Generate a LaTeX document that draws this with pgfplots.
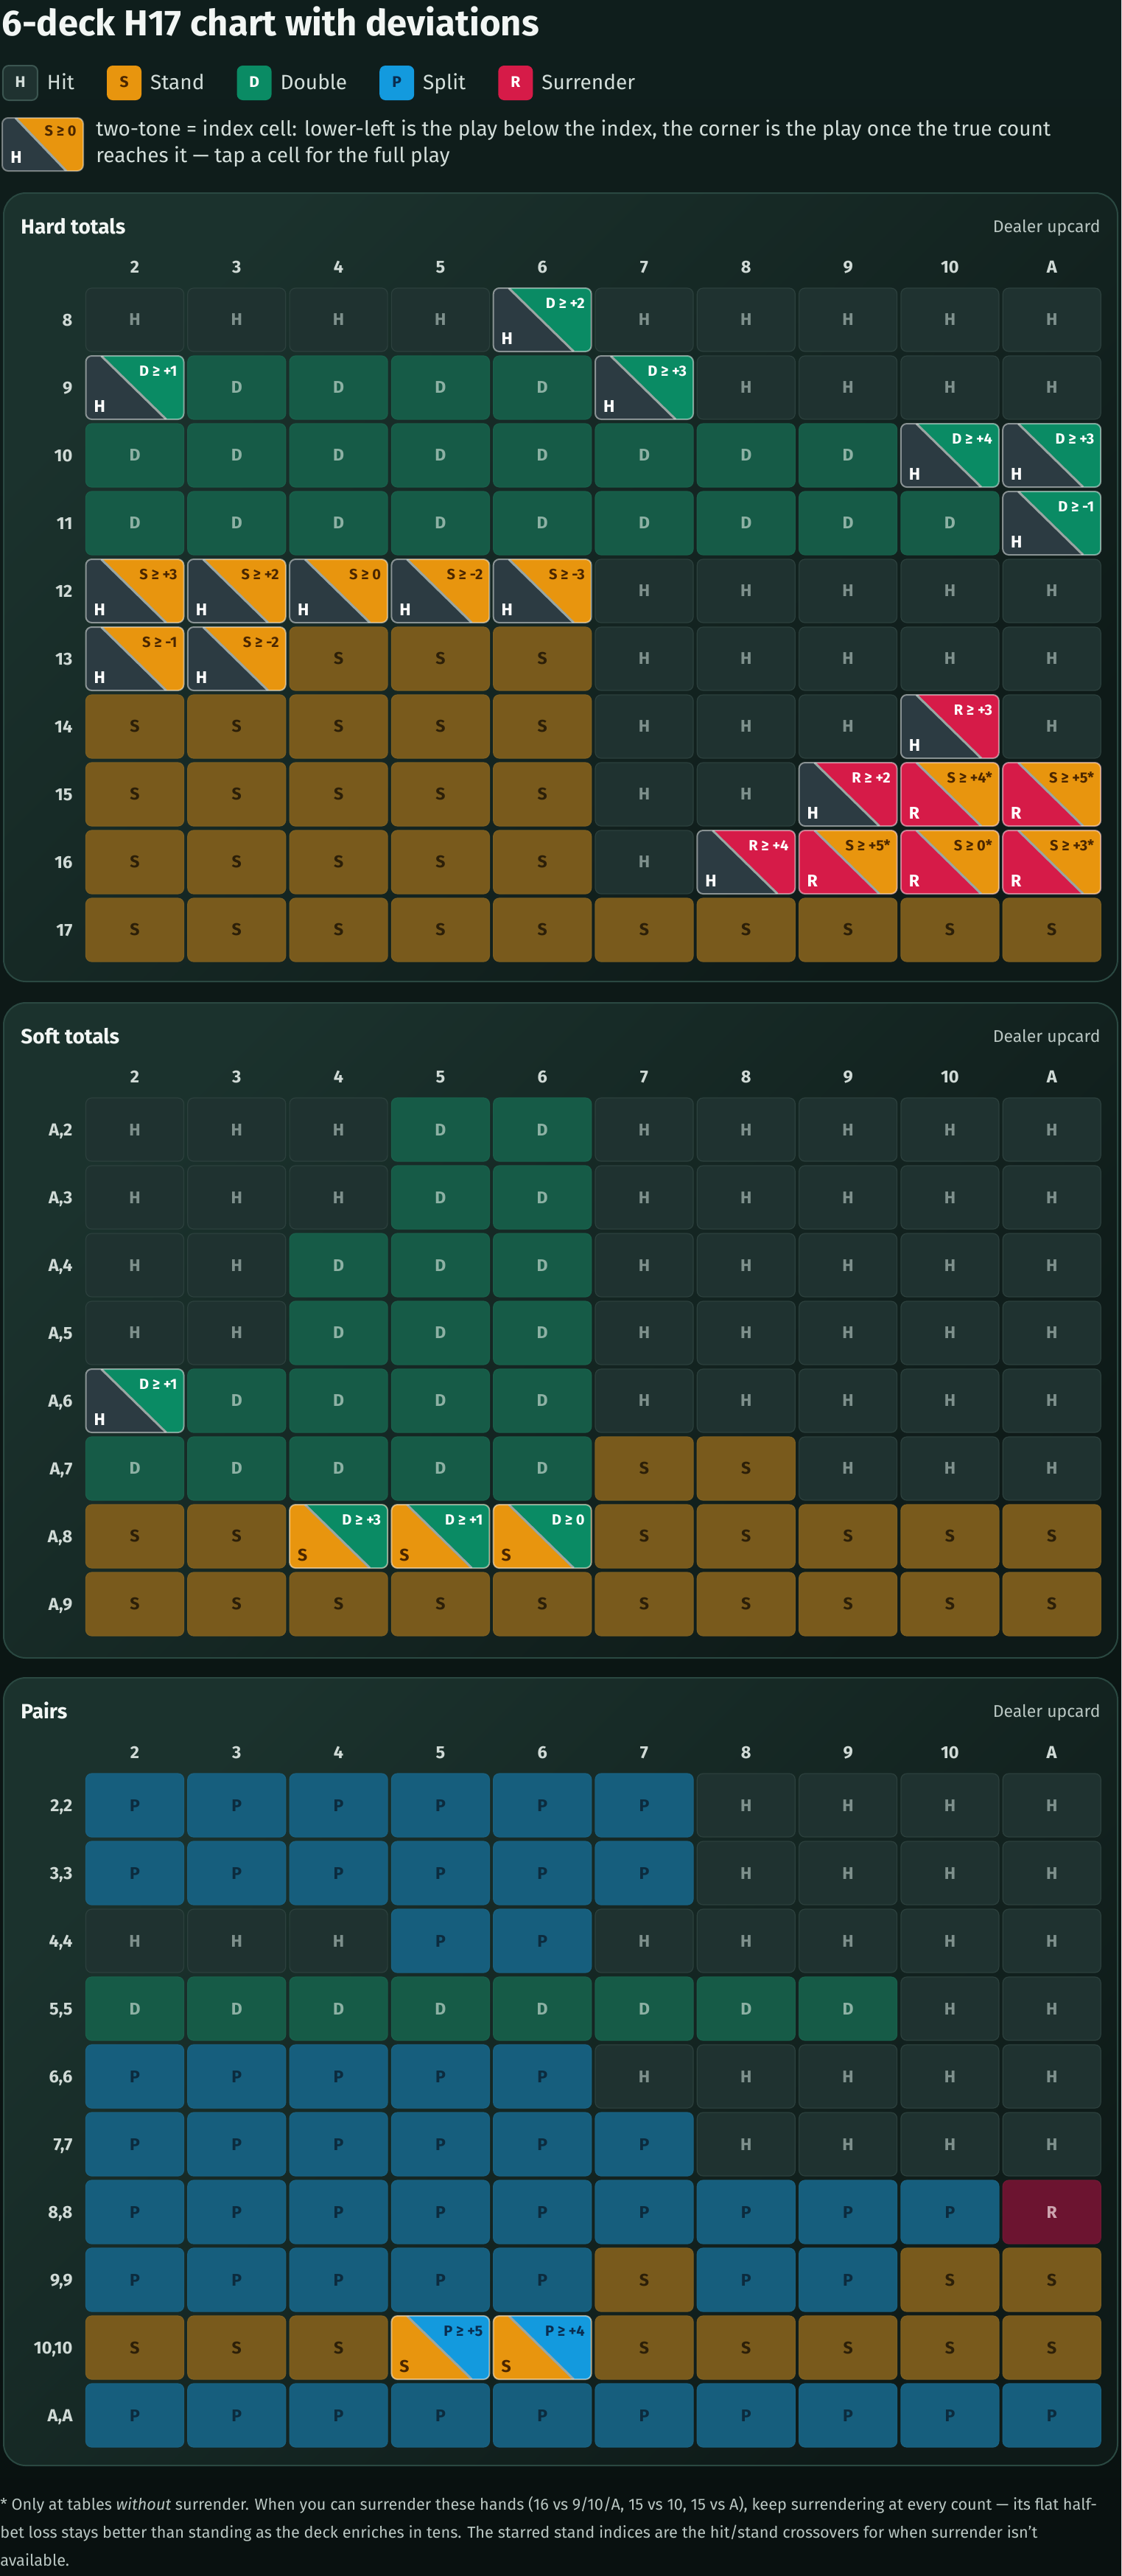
\documentclass[border=0pt]{standalone}
\usepackage{pgfplots}
\pgfplotsset{compat=1.18}
\usepackage{pgfplotstable}
\usepackage{fontspec}
\setmainfont{Fira Sans}

% page, panels, text
\definecolor{pagetop}{HTML}{0F1E1C}
\definecolor{pagebot}{HTML}{091110}
\definecolor{panelhi}{HTML}{1B322D}
\definecolor{panello}{HTML}{0E1A18}
\definecolor{panelrim}{HTML}{2A4841}
\definecolor{titletext}{HTML}{F2F6F4}
\definecolor{bodytext}{HTML}{D3DEDA}
\definecolor{dimtext}{HTML}{B9C6C2}
\definecolor{hdrtext}{HTML}{D0DAD6}
\definecolor{divider}{HTML}{9AA6A3}
\definecolor{chiprim}{HTML}{3B5550}
% plain cells: fill f, edge e, letter t
\definecolor{fH}{HTML}{1F3230}\definecolor{eH}{HTML}{2C403D}\definecolor{tH}{HTML}{7E908C}
\definecolor{fS}{HTML}{795A1C}\definecolor{eS}{HTML}{7E5F20}\definecolor{tS}{HTML}{2C1F08}
\definecolor{fD}{HTML}{165B47}\definecolor{eD}{HTML}{19604B}\definecolor{tD}{HTML}{8DB1A4}
\definecolor{fP}{HTML}{165E7D}\definecolor{eP}{HTML}{196282}\definecolor{tP}{HTML}{0C2B3E}
\definecolor{fR}{HTML}{6C1430}\definecolor{eR}{HTML}{711834}\definecolor{tR}{HTML}{CDA5AF}
% index cells: fill b, letter u
\definecolor{bH}{HTML}{2C3B42}\definecolor{uH}{HTML}{FFFFFF}
\definecolor{bS}{HTML}{E8950E}\definecolor{uS}{HTML}{4A2600}
\definecolor{bD}{HTML}{0A8B64}\definecolor{uD}{HTML}{FFFFFF}
\definecolor{bP}{HTML}{139ADE}\definecolor{uP}{HTML}{0A2D50}
\definecolor{bR}{HTML}{D61B48}\definecolor{uR}{HTML}{FFFFFF}

% basic play, one row per hand, columns = dealer 2..A
\pgfplotstableread{
r c0 c1 c2 c3 c4 c5 c6 c7 c8 c9
0 H H H H H H H H H H
1 H D D D D H H H H H
2 D D D D D D D D H H
3 D D D D D D D D D H
4 H H H H H H H H H H
5 H H S S S H H H H H
6 S S S S S H H H H H
7 S S S S S H H H R R
8 S S S S S H H R R R
9 S S S S S S S S S S
}\hardplay
% index cells, split by (play below index, play at index)
\pgfplotstableread[col sep=comma]{
c,r,lab
4,0,D ≥ +2
0,1,D ≥ +1
5,1,D ≥ +3
8,2,D ≥ +4
9,2,D ≥ +3
9,3,D ≥ -1
}\hardHD
\pgfplotstableread[col sep=comma]{
c,r,lab
0,4,S ≥ +3
1,4,S ≥ +2
2,4,S ≥ 0
3,4,S ≥ -2
4,4,S ≥ -3
0,5,S ≥ -1
1,5,S ≥ -2
}\hardHS
\pgfplotstableread[col sep=comma]{
c,r,lab
8,6,R ≥ +3
7,7,R ≥ +2
6,8,R ≥ +4
}\hardHR
\pgfplotstableread[col sep=comma]{
c,r,lab
8,7,S ≥ +4*
9,7,S ≥ +5*
7,8,S ≥ +5*
8,8,S ≥ 0*
9,8,S ≥ +3*
}\hardRS

\pgfplotstableread{
r c0 c1 c2 c3 c4 c5 c6 c7 c8 c9
0 H H H D D H H H H H
1 H H H D D H H H H H
2 H H D D D H H H H H
3 H H D D D H H H H H
4 H D D D D H H H H H
5 D D D D D S S H H H
6 S S S S S S S S S S
7 S S S S S S S S S S
}\softplay
\pgfplotstableread[col sep=comma]{
c,r,lab
0,4,D ≥ +1
}\softHD
\pgfplotstableread[col sep=comma]{
c,r,lab
2,6,D ≥ +3
3,6,D ≥ +1
4,6,D ≥ 0
}\softSD

\pgfplotstableread{
r c0 c1 c2 c3 c4 c5 c6 c7 c8 c9
0 P P P P P P H H H H
1 P P P P P P H H H H
2 H H H P P H H H H H
3 D D D D D D D D H H
4 P P P P P H H H H H
5 P P P P P P H H H H
6 P P P P P P P P P R
7 P P P P P S P P S S
8 S S S S S S S S S S
9 P P P P P P P P P P
}\pairplay
\pgfplotstableread[col sep=comma]{
c,r,lab
3,8,P ≥ +5
4,8,P ≥ +4
}\pairSP

\tikzset{
  plaincell/.style={rectangle, rounded corners=4pt, minimum width=66.5pt, minimum height=43pt,
    inner sep=0pt, outer sep=0pt, anchor=center, fill=f\pgfplotspointmeta, draw=e\pgfplotspointmeta,
    line width=0.6pt, text=t\pgfplotspointmeta, font=\bfseries\fontsize{11.5}{11.5}\selectfont},
  idxcell/.style 2 args={rectangle, rounded corners=4pt, minimum width=66.5pt, minimum height=43pt,
    inner sep=0pt, outer sep=0pt, anchor=center, draw=white, draw opacity=0.45, line width=1pt,
    path picture={
      \fill[fill=b#1, sharp corners] (path picture bounding box.south west) rectangle (path picture bounding box.north east);
      \fill[fill=b#2, sharp corners] ([xshift=10.5pt]path picture bounding box.north west)
        -- (path picture bounding box.north east) -- (path picture bounding box.south east)
        -- ([xshift=54.5pt]path picture bounding box.south west) -- cycle;
      \draw[draw=divider, draw opacity=1, line width=1.5pt, sharp corners]
        ([xshift=10.5pt]path picture bounding box.north west) -- ([xshift=54.5pt]path picture bounding box.south west);
      \node[anchor=base east, inner sep=0pt, minimum width=0pt, minimum height=0pt, text=u#2,
        font=\bfseries\fontsize{10}{10}\selectfont]
        at ([xshift=-4.5pt, yshift=-13.5pt]path picture bounding box.north east) {\pgfplotspointmeta};
      \node[anchor=base west, inner sep=0pt, minimum width=0pt, minimum height=0pt, text=u#1,
        font=\bfseries\fontsize{11.5}{11.5}\selectfont]
        at ([xshift=5.5pt, yshift=5pt]path picture bounding box.south west) {#1};
    }},
  chip/.style={rectangle, rounded corners=4pt, minimum width=23.5pt, minimum height=23.5pt,
    inner sep=0pt, font=\bfseries\fontsize{10.5}{10.5}\selectfont},
}

\pgfplotsset{
  playgrid/.style={
    scale only axis, width=691.5pt, anchor=north west,
    xmin=-0.5, xmax=9.5, ymin=-0.5, y dir=reverse,
    enlargelimits=false, clip=false,
    axis line style={draw=none}, tick style={draw=none}, major tick length=0pt,
    xtick={0,...,9}, xticklabels={2,3,4,5,6,7,8,9,10,A},
    xticklabel pos=right,
    xticklabel style={anchor=base, inner sep=0pt, yshift=9pt,
      font=\bfseries\fontsize{11.8}{11.8}\selectfont, text=hdrtext},
    yticklabel style={anchor=base east, inner sep=0pt, xshift=-7.5pt, yshift=-4pt,
      font=\bfseries\fontsize{11.8}{11.8}\selectfont, text=hdrtext},
  },
  plainplays/.style={forget plot, draw=none, mark=none, point meta=explicit symbolic,
    nodes near coords={\pgfplotspointmeta}, nodes near coords align={center},
    every node near coord/.style={/tikz/plaincell}},
  idxplays/.style 2 args={forget plot, draw=none, mark=none, point meta=explicit symbolic,
    nodes near coords={\mbox{}}, nodes near coords align={center},
    every node near coord/.style={/tikz/idxcell={#1}{#2}}},
}

\begin{document}
\begin{tikzpicture}
\begin{scope}[x=0.5pt, y=-0.5pt]
  \shade[top color=pagetop, bottom color=pagebot] (0,0) rectangle (1522,3496);
  \node[anchor=base west, inner sep=0pt, text=titletext, font=\bfseries\fontsize{24.5}{24.5}\selectfont]
    at (2,48) {6-deck H17 chart with deviations};
  % two-tone key
  \begin{scope}
    \clip[rounded corners=4pt] (3,160) rectangle (113,232);
    \fill[bH] (3,160) rectangle (113,232);
    \fill[bS] (21,160) -- (113,160) -- (113,232) -- (90,232) -- cycle;
    \draw[divider, line width=1.5pt] (21,160) -- (90,232);
  \end{scope}
  \draw[white, draw opacity=0.4, line width=1pt, rounded corners=4pt] (3,160) rectangle (113,232);
  \node[anchor=base east, inner sep=0pt, text=uS, font=\bfseries\fontsize{10}{10}\selectfont] at (104,184) {S ≥ 0};
  \node[anchor=base west, inner sep=0pt, text=white, font=\bfseries\fontsize{11.5}{11.5}\selectfont] at (14,221) {H};
  \node[anchor=base west, inner sep=0pt, text=bodytext, font=\fontsize{14}{14}\selectfont] at (130,184)
    {two-tone = index cell: lower-left is the play below the index, the corner is the play once the true count};
  \node[anchor=base west, inner sep=0pt, text=bodytext, font=\fontsize{14}{14}\selectfont] at (130,220)
    {reaches it — tap a cell for the full play};
  % panels
  \foreach \ptop/\pbot/\pname in {262/1332/Hard totals, 1361/2250/Soft totals, 2277/3346/Pairs} {
    \shade[rounded corners=15pt, top color=panelhi, bottom color=panello, shading angle=45]
      (5,\ptop) rectangle (1517,\pbot);
    \draw[panelrim, line width=1pt, rounded corners=15pt] (5,\ptop) rectangle (1517,\pbot);
    \node[anchor=base west, inner sep=0pt, text=titletext, font=\bfseries\fontsize{14}{14}\selectfont]
      at (28,\ptop+55) {\pname};
    \node[anchor=base east, inner sep=0pt, text=dimtext, font=\fontsize{11.5}{11.5}\selectfont]
      at (1494,\ptop+53) {Dealer upcard};
  }
  % footnote
  \node[anchor=base west, inner sep=0pt, text=dimtext, font=\fontsize{10.85}{10.85}\selectfont] at (0,3406)
    {* Only at tables \textit{without} surrender. When you can surrender these hands (16 vs 9/10/A, 15 vs 10, 15 vs A), keep surrendering at every count — its flat half-};
  \node[anchor=base west, inner sep=0pt, text=dimtext, font=\fontsize{10.85}{10.85}\selectfont] at (0,3444)
    {bet loss stays better than standing as the deck enriches in tens. The starred stand indices are the hit/stand crossovers for when surrender isn’t};
  \node[anchor=base west, inner sep=0pt, text=dimtext, font=\fontsize{10.85}{10.85}\selectfont] at (0,3482)
    {available.};
\end{scope}

% hard totals
\begin{axis}[playgrid, at={(56.925pt,-194pt)}, height=460pt, ymax=9.5,
  ytick={0,...,9}, yticklabels={8,9,10,11,12,13,14,15,16,17},
  legend columns=5, legend cell align=left,
  legend style={at={(-0.08015,1.3261)}, anchor=north west, draw=none, fill=none,
    inner sep=0pt, outer sep=0pt, text=bodytext, font=\fontsize{14}{14}\selectfont,
    /tikz/every odd column/.append style={column sep=4pt},
    /tikz/every even column/.append style={column sep=20pt}}]
  \addlegendimage{legend image code/.code={\node[chip, fill=fH, draw=chiprim, line width=1pt, text=bodytext] at (11.75pt,0pt) {H};}}
  \addlegendentry{Hit}
  \addlegendimage{legend image code/.code={\node[chip, fill=bS, text=uS] at (11.75pt,0pt) {S};}}
  \addlegendentry{Stand}
  \addlegendimage{legend image code/.code={\node[chip, fill=bD, text=white] at (11.75pt,0pt) {D};}}
  \addlegendentry{Double}
  \addlegendimage{legend image code/.code={\node[chip, fill=bP, text=uP] at (11.75pt,0pt) {P};}}
  \addlegendentry{Split}
  \addlegendimage{legend image code/.code={\node[chip, fill=bR, text=white] at (11.75pt,0pt) {R};}}
  \addlegendentry{Surrender}
  \pgfplotsinvokeforeach{0,...,9}{
    \addplot[plainplays] table[x expr=#1, y=r, meta=c#1] {\hardplay};
  }
  \addplot[idxplays={H}{D}] table[x=c, y=r, meta=lab] {\hardHD};
  \addplot[idxplays={H}{S}] table[x=c, y=r, meta=lab] {\hardHS};
  \addplot[idxplays={H}{R}] table[x=c, y=r, meta=lab] {\hardHR};
  \addplot[idxplays={R}{S}] table[x=c, y=r, meta=lab] {\hardRS};
\end{axis}

% soft totals
\begin{axis}[playgrid, at={(56.925pt,-743.5pt)}, height=368pt, ymax=7.5,
  ytick={0,...,7}, yticklabels={{A,2},{A,3},{A,4},{A,5},{A,6},{A,7},{A,8},{A,9}}]
  \pgfplotsinvokeforeach{0,...,9}{
    \addplot[plainplays] table[x expr=#1, y=r, meta=c#1] {\softplay};
  }
  \addplot[idxplays={H}{D}] table[x=c, y=r, meta=lab] {\softHD};
  \addplot[idxplays={S}{D}] table[x=c, y=r, meta=lab] {\softSD};
\end{axis}

% pairs
\begin{axis}[playgrid, at={(56.925pt,-1202pt)}, height=460pt, ymax=9.5,
  ytick={0,...,9}, yticklabels={{2,2},{3,3},{4,4},{5,5},{6,6},{7,7},{8,8},{9,9},{10,10},{A,A}}]
  \pgfplotsinvokeforeach{0,...,9}{
    \addplot[plainplays] table[x expr=#1, y=r, meta=c#1] {\pairplay};
  }
  \addplot[idxplays={S}{P}] table[x=c, y=r, meta=lab] {\pairSP};
\end{axis}

\pgfresetboundingbox
\path[use as bounding box] (0pt,0pt) rectangle (761pt,-1748pt);
\end{tikzpicture}
\end{document}
